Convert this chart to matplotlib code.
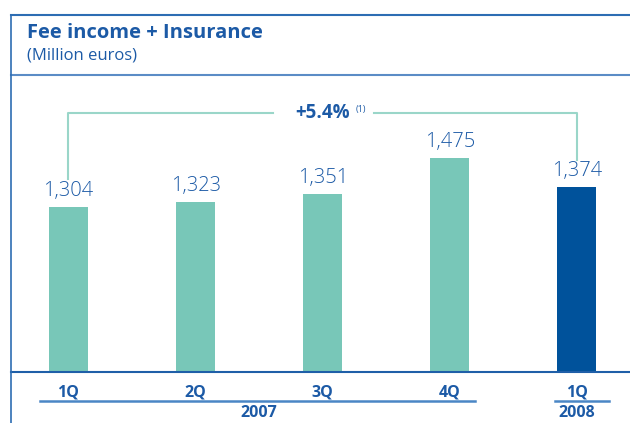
import numpy as np
import matplotlib.pyplot as plt
from matplotlib.lines import Line2D

# data
quarters = ['1Q', '2Q', '3Q', '4Q', '1Q']
years = ['2007', '2008']
values = [1304, 1323, 1351, 1475, 1374]
growth = '+5.4%'

teal = '#78c7b8'
navy = '#00529b'
txt = '#1c5aa6'
line_c = '#2d6db3'
plt.rcParams['font.family'] = ['Open Sans', 'DejaVu Sans']

W, H = 630, 423
fig = plt.figure(figsize=(W / 100, H / 100), dpi=100)


def fx(px):
    return px / W


def fy(py):
    return 1 - py / H


# frame
fig.add_artist(Line2D([fx(11), 1], [fy(15), fy(15)], color=line_c, lw=1.5))
fig.add_artist(Line2D([fx(11), 1], [fy(75), fy(75)], color='#5b8cc6', lw=1.5))
fig.add_artist(Line2D([fx(11), fx(11)], [fy(15), 0], color=line_c, lw=1.2))

fig.text(fx(27), fy(33), 'Fee income + Insurance', fontsize=14.5, fontweight='bold',
         color=txt, va='center', ha='left')
fig.text(fx(27), fy(56), '(Million euros)', fontsize=12, color=txt,
         va='center', ha='left')

ax = fig.add_axes([fx(11), fy(372), fx(619), (372 - 76) / H])
x = np.arange(len(values))
colors = [teal] * 4 + [navy]
ax.bar(x, values, width=0.307, color=colors)
ax.set_xlim(-0.452, 4.418)
ax.set_ylim(728, 728 + 296 / 0.2865)
for s in ['top', 'right', 'left']:
    ax.spines[s].set_visible(False)
ax.spines['bottom'].set_color('#1f5fa8')
ax.spines['bottom'].set_linewidth(1.5)
ax.set_yticks([])
ax.set_xticks(x)
ax.set_xticklabels(quarters, fontsize=11.5, fontweight='bold', color=txt)
ax.tick_params(axis='x', length=0, pad=9)

for xi, v in zip(x, values):
    ax.annotate(f'{v:,}', (xi, v), xytext=(0, 4), textcoords='offset points',
                ha='center', va='bottom', fontsize=14.5, fontweight='light', color=txt)

# growth bracket
top = max(values) + 157
ax.plot([0, 0, 1.61], [values[0] + 98, top, top], color='#9ad6c9', lw=1.5,
        clip_on=False)
ax.plot([2.4, 4, 4], [top, top, values[-1] + 94], color='#9ad6c9', lw=1.5,
        clip_on=False)
ax.text(2.0, top, growth, fontsize=13.5, fontweight='bold', color=txt,
        ha='center', va='center')
ax.text(2.26, top + 12, '(1)', fontsize=6.5, color=txt, ha='left', va='center')

# year labels and underlines
tr = ax.get_xaxis_transform()
ax.plot([-0.22, 3.2], [-0.098, -0.098], color='#4a86c5', lw=1.8,
        transform=tr, clip_on=False)
ax.plot([3.83, 4.25], [-0.098, -0.098], color='#4a86c5', lw=1.8,
        transform=tr, clip_on=False)
ax.text(1.5, -0.14, years[0], transform=tr, fontsize=11.5, fontweight='bold',
        color=txt, ha='center', va='center')
ax.text(4.0, -0.14, years[1], transform=tr, fontsize=11.5, fontweight='bold',
        color=txt, ha='center', va='center')

fig.savefig('out.png', dpi=100)
